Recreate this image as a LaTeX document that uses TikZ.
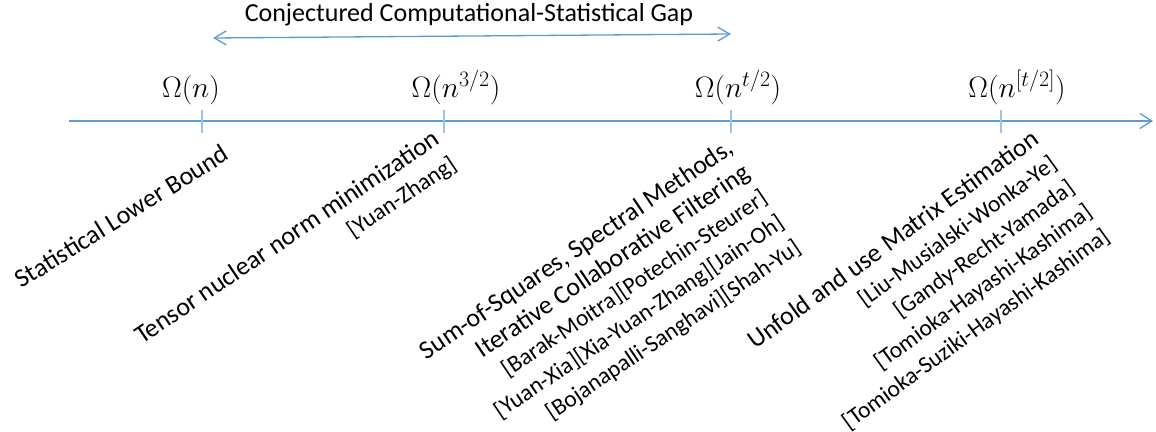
\RequirePackage{fix-cm}
\documentclass[tikz,border=0pt]{standalone}
\usepackage{fontspec}
\setmainfont{Carlito}
\DeclareMathSizes{29.5}{29.5}{22}{16}
\usetikzlibrary{arrows.meta}
\definecolor{axisblue}{HTML}{5B9BD5}
\definecolor{tickblue}{HTML}{9DC3E6}
\newcommand{\ct}[1]{{\fontsize{23.5}{30}\selectfont #1}}
\tikzset{
  axisline/.style={draw=axisblue, line width=1.3pt, -{Straight Barb[length=12pt,width=15pt,line width=1.3pt]}},
  gapline/.style={draw=axisblue, line width=1.3pt, {Straight Barb[length=12pt,width=14pt,line width=1.3pt]}-{Straight Barb[length=12pt,width=14pt,line width=1.3pt]}},
  tickline/.style={draw=tickblue, line width=1.8pt},
  bound/.style={anchor=base, inner sep=0pt, font=\fontsize{29.5}{34}\selectfont},
  method/.style={anchor=north east, inner sep=0pt, align=right, font=\fontsize{26}{30}\selectfont},
  title/.style={anchor=base, inner sep=0pt, font=\fontsize{26}{30}\selectfont}
}
\begin{document}
\begin{tikzpicture}[x=1pt,y=1pt]
\useasboundingbox (0,0) rectangle (1156,431);
% axis
\coordinate (a0) at (69,310);
\coordinate (a1) at (1153,310);
\draw[axisline] (a0) -- (a1);
% ticks
\foreach \n/\x in {t1/202,t2/444,t3/731,t4/1001}{
  \coordinate (\n top) at (\x,321);
  \coordinate (\n bot) at (\x,298);
  \draw[tickline] (\n top) -- (\n bot);
}
% gap arrow
\coordinate (gL) at (213,393);
\coordinate (gR) at (731,397);
\draw[gapline] (gL) -- (gR);
\node[title] (gap) at (469,409.5) {Conjectured Computational-Statistical Gap};
% bound labels
\node[bound] (b1) at (191,333.5) {$\Omega(n)$};
\node[bound] (b2) at (456,333.5) {$\Omega(n^{3/2})$};
\node[bound] (b3) at (738,333.5) {$\Omega(n^{t/2})$};
\node[bound] (b4) at (1017,333.5) {$\Omega(n^{[t/2]})$};
% method labels
\node[method, rotate=32] (m1) at (221,288) {Statistical Lower Bound};
\node[method, rotate=34] (m2) at (431,303) {Tensor nuclear norm minimization\\ \ct{[Yuan-Zhang]}};
\node[method, rotate=34] (m3) at (725,294) {Sum-of-Squares, Spectral Methods,\\ Iterative Collaborative Filtering\\ \ct{[Barak-Moitra][Potechin-Steurer]}\\ \ct{[Yuan-Xia][Xia-Yuan-Zhang][Jain-Oh]}\\ \ct{[Bojanapalli-Sanghavi][Shah-Yu]}};
\node[method, rotate=36] (m4) at (1030,303) {Unfold and use Matrix Estimation\\ \ct{[Liu-Musialski-Wonka-Ye]}\\ \ct{[Gandy-Recht-Yamada]}\\ \ct{[Tomioka-Hayashi-Kashima]}\\ \ct{[Tomioka-Suziki-Hayashi-Kashima]}};
\end{tikzpicture}
\end{document}
